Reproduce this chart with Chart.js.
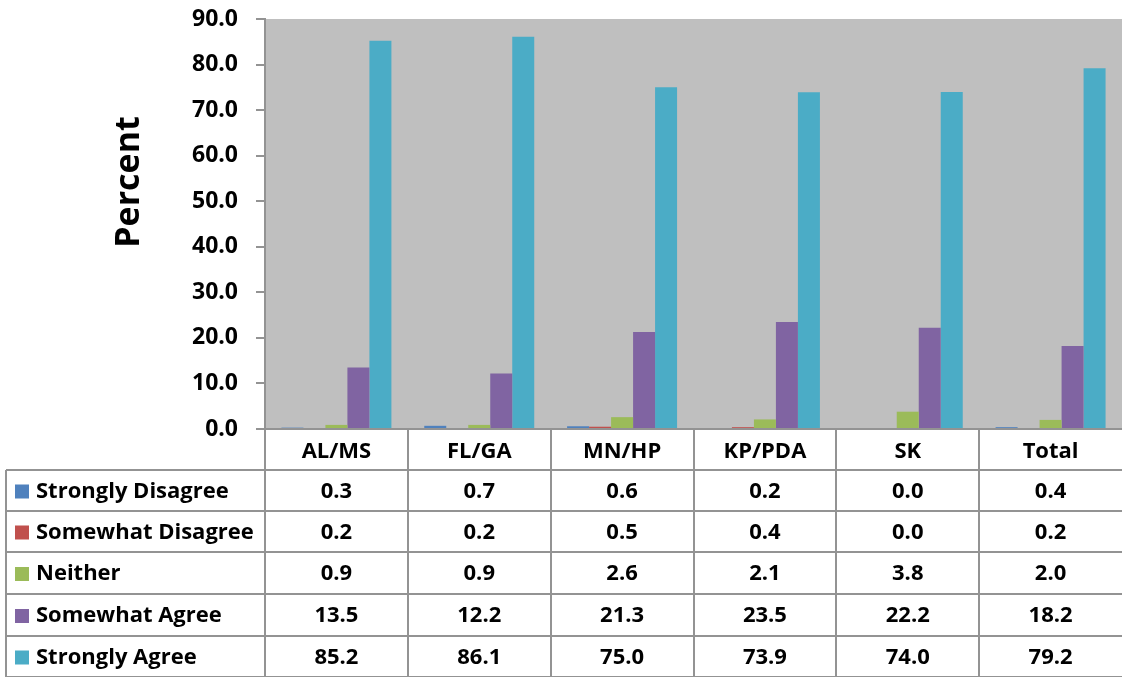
<!DOCTYPE html>
<html>
<head>
<meta charset="utf-8">
<script src="https://cdn.jsdelivr.net/npm/chart.js@4"></script>
<style>
  html, body { margin: 0; padding: 0; background: #fff; }
  canvas { display: block; }
</style>
</head>
<body>
<canvas id="chart" width="1122" height="677"></canvas>
<script>
'use strict';

// Data.
const categories = ['AL/MS', 'FL/GA', 'MN/HP', 'KP/PDA', 'SK', 'Total'];
const stronglyDisagree = [0.3, 0.7, 0.6, 0.2, 0.0, 0.4];
const somewhatDisagree = [0.2, 0.2, 0.5, 0.4, 0.0, 0.2];
const neither = [0.9, 0.9, 2.6, 2.1, 3.8, 2.0];
const somewhatAgree = [13.5, 12.2, 21.3, 23.5, 22.2, 18.2];
const stronglyAgree = [85.2, 86.1, 75.0, 73.9, 74.0, 79.2];
const seriesNames = ['Strongly Disagree', 'Somewhat Disagree', 'Neither', 'Somewhat Agree', 'Strongly Agree'];
const yTicks = [0, 10, 20, 30, 40, 50, 60, 70, 80, 90];

const seriesValues = [stronglyDisagree, somewhatDisagree, neither, somewhatAgree, stronglyAgree];
const colors = ['#4F81BD', '#C0504D', '#9BBB59', '#8064A2', '#4BACC6'];
const FONT = '"Open Sans", "DejaVu Sans", sans-serif';
const LINE = '#939393';

/**
 * Gray plot background, like the Excel plot area.
 */
const plotBackground = {
    id: 'plotBackground',
    beforeDraw: (chart) => {
        const {ctx, chartArea} = chart;
        ctx.save();
        ctx.fillStyle = '#BFBFBF';
        ctx.fillRect(chartArea.left, chartArea.top, chartArea.right - chartArea.left, chartArea.bottom - chartArea.top);
        ctx.restore();
    },
};

/**
 * Data table below the plot, plus the rotated axis title.
 */
const dataTable = {
    id: 'dataTable',
    afterDraw: (chart) => {
        const {ctx, chartArea} = chart;
        const x = chart.scales.x;
        const left = chartArea.left;
        const right = chart.width;
        const tableLeft = 6;
        const colW = (chartArea.right - chartArea.left) / categories.length;
        const headerTop = chartArea.bottom;
        const rowTops = [470, 511, 552, 594, 636, 677];

        ctx.save();
        ctx.strokeStyle = LINE;
        ctx.lineWidth = 2;

        // Horizontal lines.
        ctx.beginPath();
        ctx.moveTo(left, headerTop);
        ctx.lineTo(right, headerTop);
        rowTops.forEach((y) => {
            ctx.moveTo(tableLeft, y);
            ctx.lineTo(right, y);
        });
        // Vertical lines (the last one falls off the right edge).
        for (let i = 0; i < categories.length; i++) {
            const vx = Math.round(left + i * colW);
            ctx.moveTo(vx, headerTop);
            ctx.lineTo(vx, 677);
        }
        ctx.moveTo(tableLeft, rowTops[0]);
        ctx.lineTo(tableLeft, 677);
        ctx.stroke();

        // Rows.
        ctx.font = 'bold 22px ' + FONT;
        ctx.textBaseline = 'middle';
        seriesNames.forEach((name, r) => {
            const cy = (rowTops[r] + rowTops[r + 1]) / 2 + 1;
            ctx.fillStyle = colors[r];
            ctx.fillRect(15, cy - 7, 14, 14);
            ctx.fillStyle = '#000';
            ctx.textAlign = 'left';
            ctx.fillText(name, 36, cy);
            ctx.textAlign = 'center';
            seriesValues[r].forEach((v, c) => {
                ctx.fillText(v.toFixed(1), x.getPixelForValue(c), cy);
            });
        });

        // Axis title.
        ctx.translate(129, 182);
        ctx.rotate(-Math.PI / 2);
        ctx.textAlign = 'center';
        ctx.font = 'bold 34px ' + FONT;
        ctx.fillText('Percent', 0, 0);
        ctx.restore();
    },
};

const renderChart = () => {
    const data = {
        labels: categories,
        datasets: seriesNames.map((name, i) => ({
            label: name,
            data: seriesValues[i],
            backgroundColor: colors[i],
            borderWidth: 0,
            categoryPercentage: 0.77,
            barPercentage: 1.0,
        })),
    };

    const config = {
        type: 'bar',
        data: data,
        options: {
            responsive: false,
            animation: false,
            layout: {padding: {top: 19, left: 0, right: 0, bottom: 0}},
            plugins: {
                legend: {display: false},
                tooltip: {enabled: false},
            },
            scales: {
                x: {
                    afterFit: (scale) => {
                        scale.height = 248;
                        scale.paddingLeft = 0;
                        scale.paddingRight = 0;
                    },
                    grid: {display: false},
                    border: {display: false},
                    ticks: {
                        color: '#000',
                        padding: 2,
                        font: {family: FONT, size: 22, weight: 'bold'},
                    },
                },
                y: {
                    min: 0,
                    max: 90,
                    afterFit: (scale) => {
                        scale.width = 265;
                        scale.paddingTop = 0;
                        scale.paddingBottom = 0;
                    },
                    afterBuildTicks: (scale) => {
                        scale.ticks = yTicks.map((v) => ({value: v}));
                    },
                    grid: {
                        drawOnChartArea: false,
                        drawTicks: true,
                        tickLength: 9,
                        color: LINE,
                        lineWidth: 2,
                    },
                    border: {display: true, color: LINE, width: 2},
                    ticks: {
                        color: '#000',
                        padding: 18,
                        font: {family: FONT, size: 23, weight: 'bold'},
                        callback: (v) => Number(v).toFixed(1),
                    },
                },
            },
        },
        plugins: [plotBackground, dataTable],
    };

    return new Chart(document.getElementById('chart'), config);
};

renderChart();
</script>
</body>
</html>
